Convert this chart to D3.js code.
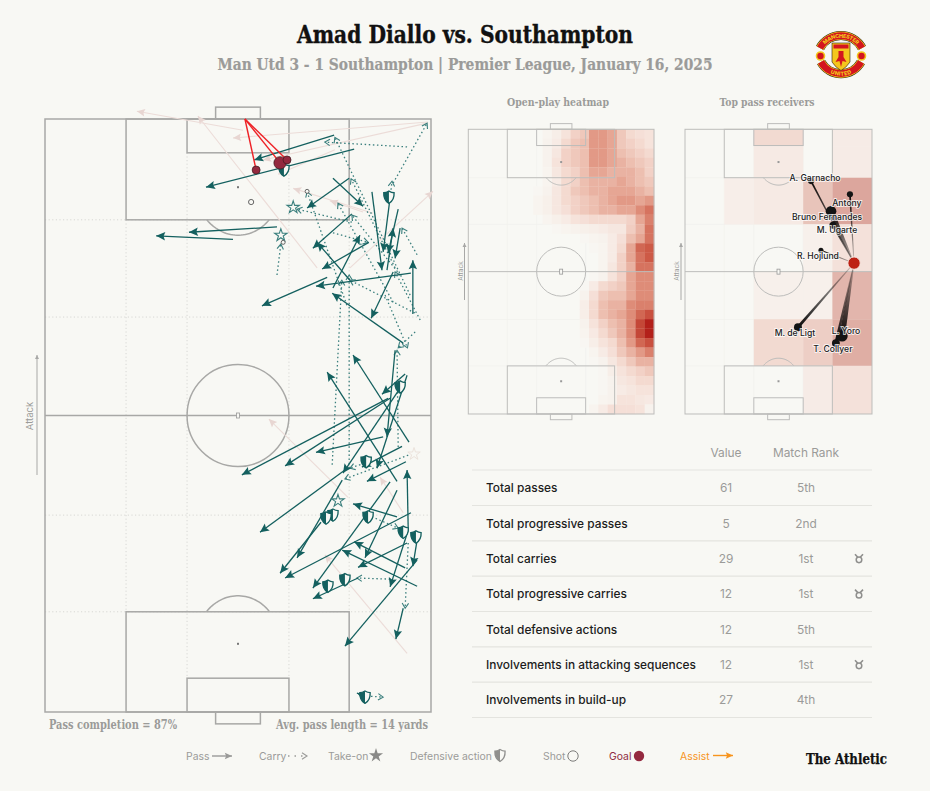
<!DOCTYPE html>
<html>
<head>
<meta charset="utf-8">
<title>Amad Diallo vs. Southampton</title>
<script src="https://cdn.jsdelivr.net/npm/d3@7"></script>
<style>
  html, body { margin: 0; padding: 0; background: #f8f8f4; }
  svg { display: block; }
</style>
</head>
<body>
<div id="plot-container"></div>
<script>
// ##################################
//  DATA (pitch units 0-100, attacking towards y = 100)
// ##################################

// [x0, y0, x1, y1]
const completedPasses = [
  [74.9, 97.3, 54.2, 93.1], [80.1, 94.9, 41.7, 88.5], [78.8, 90.0, 67.9, 85.0], [74.6, 90.0, 82.4, 85.3],
  [60.1, 81.8, 37.3, 80.9], [48.7, 79.7, 28.8, 80.3], [79.5, 84.0, 69.4, 78.2], [79.0, 72.8, 70.5, 79.2],
  [83.9, 79.2, 71.8, 74.7], [74.6, 71.5, 81.6, 80.4], [94.8, 74.0, 70.2, 71.8], [73.1, 73.3, 56.2, 68.5],
  [84.7, 87.7, 87.3, 74.5], [89.4, 86.7, 87.6, 77.6], [88.6, 74.5, 90.2, 81.6], [91.5, 84.8, 88.9, 77.4],
  [92.0, 81.6, 90.7, 76.5], [95.3, 67.1, 95.3, 76.2], [92.8, 62.2, 74.4, 70.6], [90.2, 74.2, 84.5, 66.4],
  [93.3, 57.0, 87.3, 53.6], [88.9, 52.9, 51.0, 40.0], [89.4, 52.9, 62.2, 41.5], [94.3, 45.5, 79.8, 60.2],
  [91.2, 38.9, 73.1, 57.3], [87.6, 46.4, 70.2, 43.8], [90.7, 61.0, 88.6, 46.4], [93.8, 56.8, 86.0, 41.1],
  [92.0, 54.6, 77.2, 40.3], [77.7, 40.8, 55.7, 30.3], [77.0, 39.1, 65.3, 26.0], [71.5, 32.0, 60.9, 23.4],
  [92.5, 44.8, 82.1, 41.3], [93.5, 42.2, 83.4, 38.9], [94.1, 30.7, 93.8, 40.8], [91.2, 32.9, 79.8, 35.1],
  [89.4, 38.8, 69.4, 20.9], [91.2, 37.4, 82.9, 26.0], [94.8, 33.6, 62.2, 22.6], [93.3, 24.3, 80.1, 28.7],
  [96.4, 21.2, 77.0, 27.3], [93.8, 28.5, 81.1, 24.4], [94.1, 30.7, 89.4, 21.1], [96.4, 29.0, 95.3, 24.6],
  [96.4, 25.6, 77.7, 11.1], [81.1, 22.6, 69.4, 19.1], [92.8, 17.5, 90.9, 12.3], [83.4, 2.5, 80.8, 3.2],
]

const failedPasses = [
  [99.2, 99.5, 48.7, 96.8], [99.0, 99.3, 56.5, 93.1], [70.5, 74.9, 39.6, 100.5], [51.3, 98.1, 23.8, 101.3],
  [85.0, 84.1, 64.3, 88.3], [79.0, 74.9, 100.5, 87.8], [82.4, 84.3, 73.8, 86.2], [75.1, 94.8, 60.4, 90.7],
  [78.5, 36.2, 58.0, 49.4], [92.8, 33.6, 86.8, 39.6], [93.8, 9.9, 72.5, 26.5],
]

const carries = [
  [93.8, 95.3, 72.5, 96.1], [90.2, 89.2, 99.0, 99.3], [89.4, 86.7, 89.9, 89.5], [94.6, 70.3, 75.1, 96.9],
  [90.7, 74.9, 79.3, 89.9], [90.2, 69.1, 75.9, 85.8], [78.2, 68.6, 67.9, 87.7], [79.5, 82.6, 65.3, 84.8],
  [92.0, 73.7, 79.5, 83.8], [60.1, 73.7, 61.1, 78.9], [74.6, 80.8, 83.7, 79.2], [96.4, 77.1, 92.5, 81.6],
  [97.2, 66.1, 90.7, 74.2], [95.8, 67.3, 79.0, 72.8], [88.1, 70.3, 93.9, 61.4], [91.5, 44.7, 91.2, 61.0],
  [74.4, 41.7, 76.9, 72.8], [78.8, 41.1, 78.8, 73.7], [83.7, 42.2, 79.0, 41.1], [94.1, 43.3, 77.7, 39.3],
  [83.7, 33.2, 91.5, 31.0], [94.1, 28.5, 93.3, 17.5], [89.4, 22.4, 80.8, 22.6], [83.4, 2.7, 87.6, 2.5],
  [95.9, 64.1, 91.5, 61.4],
]

const defensiveActions = [
  [61.9, 91.4], [89.1, 86.8], [92.0, 54.8], [83.2, 42.2], [74.6, 33.2], [72.8, 32.7],
  [83.7, 32.9], [92.8, 30.3], [96.1, 29.5], [73.3, 21.2], [77.7, 22.3], [82.9, 2.5],
]
const takeOns = [[64.3, 85.1], [61.1, 80.4], [75.9, 35.6]]
const failedTakeOns = [[95.6, 43.5]]
const shots = [[53.4, 86.0], [67.9, 87.8], [61.7, 79.2]]
const goals = [[54.7, 91.4], [60.9, 92.6], [62.7, 93.1]]
const goalMouth = [51.8, 100]

// Open-play heatmap, 30 rows (top to bottom) x 20 columns
const heatRows = [
  [0,0,0,0,0,0,0,0,.2,.5,1,2,2.5,4.5,4.5,4,2.5,1.5,1.2,1],
  [0,0,0,0,0,0,0,0,.3,.6,1.5,2.5,3,4.5,4.5,4,2.5,2,1.5,1],
  [0,0,0,0,0,0,0,0,.3,.8,2,2.5,3,4.5,4.5,4,3,2.5,2,1.5],
  [0,0,0,0,0,0,0,0,.3,1,2,2.5,3,4.5,4.5,4,3.5,3,2.5,2],
  [0,0,0,0,0,0,0,0,.2,.8,1.5,2,3,4,4,3.5,3.5,3.5,3,2],
  [0,0,0,0,0,0,0,0,.2,.6,1.5,2,3,3.5,3.5,3.5,4,3.5,3,2.5],
  [0,0,0,0,0,0,0,.1,.3,.8,1.5,2.5,3,3.5,3.5,4,4,4,3.5,3],
  [0,0,0,0,0,0,0,.2,.4,.8,1.5,2,2.5,3,3.5,4,4.5,4.5,4,4.5],
  [0,0,0,0,0,0,0,.2,.4,.8,1.2,2,2.5,3,3.5,3.5,4,4,5,6],
  [0,0,0,0,0,0,0,0,.2,.4,.6,1,1.2,1.5,1.5,1.5,1.5,2,4,5.5],
  [0,0,0,0,0,0,0,0,0,.1,.2,.3,.4,.5,.6,.8,.8,2.2,3.5,6],
  [0,0,0,0,0,0,0,0,0,0,0,0,.1,.2,.3,.6,1.2,3,4,6],
  [0,0,0,0,0,0,0,0,0,0,0,0,0,.1,.2,.6,1.5,4,6.5,7],
  [0,0,0,0,0,0,0,0,0,0,0,0,0,0,.2,.6,2,4,6,7],
  [0,0,0,0,0,0,0,0,0,0,0,0,0,0,.2,.8,2,3.5,6,6],
  [0,0,0,0,0,0,0,0,0,0,0,0,0,.1,.3,1,2,4,5,5],
  [0,0,0,0,0,0,0,0,0,0,0,0,.1,.6,1.5,2,2.5,4,5,5],
  [0,0,0,0,0,0,0,0,0,0,0,0,.3,1.2,2.5,3,3,4,5,5],
  [0,0,0,0,0,0,0,0,0,0,0,0,.5,1.5,3,3.5,3.5,5,5.5,5.5],
  [0,0,0,0,0,0,0,0,0,0,0,0,.5,1.5,3,3.5,4,5,6.5,7.5],
  [0,0,0,0,0,0,0,0,0,0,0,0,.3,1,2,3,3.5,5,8,10],
  [0,0,0,0,0,0,0,0,0,0,0,0,.2,.7,1.5,2.5,3.5,5,8,10],
  [0,0,0,0,0,0,0,0,0,0,0,0,.1,.5,1,1.5,3,4.5,6.5,7.5],
  [0,0,0,0,0,0,0,0,0,0,0,0,0,.2,.6,1.2,2.5,3.5,4.5,5.5],
  [0,0,0,0,0,0,0,0,0,0,0,0,0,.1,.3,.8,1.5,2.5,3.5,3.5],
  [0,0,0,0,0,0,0,0,0,0,0,0,0,0,.1,.5,1,1.5,2,2.5],
  [0,0,0,0,0,0,0,0,0,0,0,0,0,0,.1,.3,.8,1,1.5,1.5],
  [0,0,0,0,0,0,0,0,0,0,0,0,0,0,.1,.3,.6,.8,1,1],
  [0,0,0,0,0,0,0,0,0,0,0,0,0,0,.2,.3,1,1,.8,.7],
  [0,0,0,0,0,0,0,0,0,0,0,0,0,.2,.6,1.2,1.2,1.2,1,.3],
]

// Top pass receivers: zones behind the network
const zoneXEdges = [0, 21, 36.8, 63.2, 78.8, 100]
const zoneYEdges = [100, 94.1, 83, 66.6, 50, 33.3, 16.9, 0]
const zoneValues = [
  [0, 0, 2, 0, .8],
  [0, 0, .9, 0, .8],
  [0, .6, .9, 3.5, 5.5],
  [0, 0, 0, .5, 1.5],
  [0, 0, .5, .5, 4.5],
  [0, 0, 2, 2.8, 5],
  [0, 0, 0, .8, 1.5],
]

const receiverNames = ["A. Garnacho", "Antony", "Bruno Fernandes", "M. Ugarte", "R. Hojlund", "M. de Ligt", "L. Yoro", "T. Collyer"]
const receiverX = [67.4, 88.2, 78.1, 79.1, 72.7, 60.4, 84.0, 80.7]
const receiverY = [81.8, 77.2, 71.2, 66.3, 57.5, 30.5, 27.4, 24.9]
const receiverPasses = [3, 3, 9, 4, 2, 5, 10, 5]
const playerAverage = [90.4, 53.0]

const tableLabels = [
  "Total passes", "Total progressive passes", "Total carries", "Total progressive carries",
  "Total defensive actions", "Involvements in attacking sequences", "Involvements in build-up",
]
const tableValues = [61, 5, 29, 12, 12, 12, 27]
const tableRanks = ["5th", "2nd", "1st", "1st", "5th", "1st", "4th"]

// ##################################
//  CONSTANTS
// ##################################

const width = 930
const height = 791
const bg = "#f8f8f4"
const teal = "#14605f"
const tealDot = "#3a7f7d"
const faded = "#ecdcd8"
const lineGray = "#a8a8a6"
const textGray = "#9b9b99"
const slab = "'DejaVu Serif Condensed', 'DejaVu Serif', serif"
const sans = "Inter, 'Noto Sans', sans-serif"

const svg = d3.select("#plot-container").append("svg")
  .attr("width", width).attr("height", height)
  .attr("viewBox", [0, 0, width, height])
  .style("background", bg)

const defs = svg.append("defs")

const addArrow = (id, color, size = 1) =>
  defs.append("marker")
    .attr("id", id)
    .attr("markerUnits", "userSpaceOnUse")
    .attr("viewBox", "-11 -6 12 12")
    .attr("refX", 0).attr("refY", 0)
    .attr("markerWidth", 12 * size).attr("markerHeight", 12 * size)
    .attr("orient", "auto")
    .append("path")
    .attr("d", "M0,0 L-9,-4.2 L-7.4,0 L-9,4.2Z")
    .attr("fill", color)

const addChevron = (id, color) =>
  defs.append("marker")
    .attr("id", id)
    .attr("markerUnits", "userSpaceOnUse")
    .attr("viewBox", "-8 -6 10 12")
    .attr("refX", 0).attr("refY", 0)
    .attr("markerWidth", 10).attr("markerHeight", 12)
    .attr("orient", "auto")
    .append("path")
    .attr("d", "M-5,-3.2 L0,0 L-5,3.2")
    .attr("fill", "none")
    .attr("stroke", color)
    .attr("stroke-width", 1.1)

addArrow("head-pass", teal)
addArrow("head-failed", "#e8d6d2", .9)
addArrow("head-gray", "#9a9a98", .8)
addArrow("head-orange", "#f7941d", .8)
addChevron("chev-carry", tealDot)
addChevron("chev-gray", "#9a9a98")

// ##################################
//  PITCH
// ##################################

const makePitch = (left, top, w, h, opts) => {
  const x = d3.scaleLinear().domain([0, 100]).range([left, left + w])
  const y = d3.scaleLinear().domain([0, 100]).range([top + h, top])
  return { x, y, left, top, w, h, ...opts }
}

const drawGrid = (p) => {
  const g = svg.append("g")
    .attr("stroke", p.gridColor)
    .attr("stroke-width", p.gridWidth)
    .attr("stroke-dasharray", p.gridDash)
    .attr("fill", "none")
  ;[[21, 83, 17], [36.8, 94.3, 5.7], [63.2, 94.3, 5.7], [78.8, 83, 17]].forEach(([vx, y0, y1]) =>
    g.append("line").attr("x1", p.x(vx)).attr("x2", p.x(vx)).attr("y1", p.y(y0)).attr("y2", p.y(y1)))
  ;[83, 66.6, 33.2, 16.9].forEach((hy) =>
    g.append("line").attr("x1", p.x(0)).attr("x2", p.x(100)).attr("y1", p.y(hy)).attr("y2", p.y(hy)))
}

const drawLines = (p) => {
  const g = svg.append("g")
    .attr("stroke", p.lineColor)
    .attr("stroke-width", p.lineWidth)
    .attr("fill", "none")
  const rect = (x0, x1, y0, y1) =>
    g.append("rect")
      .attr("x", p.x(x0)).attr("y", p.y(y1))
      .attr("width", p.x(x1) - p.x(x0)).attr("height", p.y(y0) - p.y(y1))

  rect(0, 100, 0, 100)
  rect(21, 78.8, 83, 100)
  rect(36.8, 63.2, 94.3, 100)
  rect(44.2, 55.8, 100, 102)
  rect(21, 78.8, 0, 16.9)
  rect(36.8, 63.2, 0, 5.7)
  rect(44.2, 55.8, -2, 0)

  g.append("line")
    .attr("x1", p.x(0)).attr("x2", p.x(100))
    .attr("y1", p.y(50)).attr("y2", p.y(50))

  const rx = 13.2
  const ry = 8.6
  g.append("ellipse")
    .attr("cx", p.x(50)).attr("cy", p.y(50))
    .attr("rx", p.x(50 + rx) - p.x(50)).attr("ry", p.y(50 - ry) - p.y(50))

  // The D on each penalty box
  const arc = d3.line().x((d) => p.x(d[0])).y((d) => p.y(d[1]))
  const dRx = 11
  const dRy = 8.1
  const theta = Math.asin(5.5 / dRy)
  const angles = d3.range(theta, Math.PI - theta + 0.01, 0.05)
  g.append("path").attr("d", arc(angles.map((a) => [50 + dRx * Math.cos(a), 88.5 - dRy * Math.sin(a)])))
  g.append("path").attr("d", arc(angles.map((a) => [50 + dRx * Math.cos(a), 11.5 + dRy * Math.sin(a)])))

  svg.append("g").attr("fill", p.lineColor === lineGray ? "#777" : "#999")
    .selectAll("rect")
    .data([[50, 88.5], [50, 11.5]])
    .join("rect")
    .attr("x", (d) => p.x(d[0]) - 1).attr("y", (d) => p.y(d[1]) - 1)
    .attr("width", 2).attr("height", 2)

  svg.append("rect")
    .attr("x", p.x(50) - 1.5).attr("y", p.y(50) - 2.5)
    .attr("width", 3).attr("height", 5)
    .attr("fill", bg).attr("stroke", "#999").attr("stroke-width", .8)
}

const attackLabel = (lx, arrowX, y0, y1, yMid, size) => {
  svg.append("line")
    .attr("x1", arrowX).attr("x2", arrowX).attr("y1", y0).attr("y2", y1)
    .attr("stroke", lineGray).attr("stroke-width", 1)
  svg.append("path")
    .attr("d", d3.line()([[arrowX - 2, y1 + 4], [arrowX, y1], [arrowX + 2, y1 + 4]]))
    .attr("fill", lineGray)
  svg.append("text")
    .attr("transform", `translate(${lx},${yMid}) rotate(-90)`)
    .attr("text-anchor", "middle")
    .attr("font-family", sans).attr("font-size", size).attr("fill", textGray)
    .text("Attack")
}

const mainPitch = makePitch(45, 119, 386, 593, {
  gridColor: "#d8d8d4", gridWidth: 1, gridDash: "1.2 2.4", lineColor: lineGray, lineWidth: 1.5,
})
const heatPitch = makePitch(468.3, 129.3, 185.7, 284.7, {
  gridColor: "#f0f0ec", gridWidth: .7, gridDash: null, lineColor: "#bdbdbb", lineWidth: 1,
})
const netPitch = makePitch(685, 129.3, 187, 284.7, {
  gridColor: "#f0f0ec", gridWidth: .7, gridDash: null, lineColor: "#bdbdbb", lineWidth: 1,
})

// ##################################
//  MAIN PITCH
// ##################################

drawGrid(mainPitch)
drawLines(mainPitch)
attackLabel(33, 37, 475, 355, 416, 9.5)

const mx = mainPitch.x
const my = mainPitch.y

const drawSegments = (rows, stroke, sw, marker, dash) =>
  svg.append("g")
    .selectAll("line")
    .data(rows)
    .join("line")
    .attr("x1", (d) => mx(d[0])).attr("y1", (d) => my(d[1]))
    .attr("x2", (d) => mx(d[2])).attr("y2", (d) => my(d[3]))
    .attr("stroke", stroke)
    .attr("stroke-width", sw)
    .attr("stroke-dasharray", dash)
    .attr("marker-end", `url(#${marker})`)

const shieldPath = "M0,-5.5 C1.8,-4.4 3.4,-4 4.6,-4 C4.8,-0.6 3.6,3.4 0,5.5 C-3.6,3.4 -4.8,-0.6 -4.6,-4 C-3.4,-4 -1.8,-4.4 0,-5.5Z"
const shieldLeft = "M0,-5.5 C-1.8,-4.4 -3.4,-4 -4.6,-4 C-4.8,-0.6 -3.6,3.4 0,5.5Z"
const starPath = d3.symbol().type(d3.symbolStar)

const drawShield = (parent, color) => {
  parent.append("path").attr("d", shieldPath).attr("fill", bg).attr("stroke", color).attr("stroke-width", 1.2)
  parent.append("path").attr("d", shieldLeft).attr("fill", color)
}

drawSegments(failedPasses, faded, 1.1, "head-failed")
drawSegments(carries, tealDot, 1.3, "chev-carry", "1.5 2.6")
drawSegments(completedPasses, teal, 1.3, "head-pass")

// Take-ons, shots
svg.append("g").selectAll("path")
  .data(failedTakeOns)
  .join("path")
  .attr("transform", (d) => `translate(${mx(d[0])},${my(d[1])})`)
  .attr("d", starPath.size(48))
  .attr("fill", "none").attr("stroke", "#ece3dc").attr("stroke-width", 1)

svg.append("g").selectAll("path")
  .data(takeOns)
  .join("path")
  .attr("transform", (d) => `translate(${mx(d[0])},${my(d[1])})`)
  .attr("d", starPath.size(48))
  .attr("fill", bg).attr("stroke", tealDot).attr("stroke-width", 1.1)

svg.append("g").selectAll("circle")
  .data(shots)
  .join("circle")
  .attr("cx", (d) => mx(d[0])).attr("cy", (d) => my(d[1]))
  .attr("r", (d, i) => (i === 0 ? 2.6 : 2))
  .attr("fill", bg).attr("stroke", "#555").attr("stroke-width", .9)

// Defensive actions
svg.append("g").selectAll("g")
  .data(defensiveActions)
  .join("g")
  .attr("transform", (d) => `translate(${mx(d[0])},${my(d[1])}) scale(1.12)`)
  .each(function () { drawShield(d3.select(this), teal) })

// Goals and their assist lines
svg.append("g").selectAll("line")
  .data(goals)
  .join("line")
  .attr("x1", mx(goalMouth[0])).attr("y1", my(goalMouth[1]))
  .attr("x2", (d) => mx(d[0])).attr("y2", (d) => my(d[1]))
  .attr("stroke", "#ee2227").attr("stroke-width", 1.4)

svg.append("g").selectAll("circle")
  .data(goals)
  .join("circle")
  .attr("cx", (d) => mx(d[0])).attr("cy", (d) => my(d[1]))
  .attr("r", (d, i) => (i === 1 ? 6.2 : 4))
  .attr("fill", "#94293f").attr("stroke", "#3b1a20").attr("stroke-width", .7)

// ##################################
//  HEATMAP
// ##################################

const heatColor = d3.scaleLinear()
  .domain([0, 1, 3, 5, 7, 10])
  .range([bg, "#f6e3db", "#edbfb0", "#de8c78", "#cd5a46", "#b3201a"])

const heatX = d3.scaleBand().domain(d3.range(20)).range([468.3, 654])
const heatY = d3.scaleBand().domain(d3.range(30)).range([129.3, 414])

drawGrid(heatPitch)
svg.append("g").selectAll("rect")
  .data(heatRows.flatMap((row, r) => row.map((v, c) => ({ r, c, v }))).filter((d) => d.v > 0))
  .join("rect")
  .attr("x", (d) => heatX(d.c)).attr("y", (d) => heatY(d.r))
  .attr("width", heatX.bandwidth() + .2).attr("height", heatY.bandwidth() + .2)
  .attr("fill", (d) => heatColor(d.v))
drawLines(heatPitch)
attackLabel(463, 464.5, 300, 243, 271, 6.5)

// ##################################
//  PASS RECEIVERS
// ##################################

const nx = netPitch.x
const ny = netPitch.y
const zoneColor = d3.scaleLinear()
  .domain([0, 1, 2, 3.5, 5.5])
  .range([bg, "#f6e8e2", "#f2dad1", "#e8c4ba", "#dca69d"])

drawGrid(netPitch)
svg.append("g").selectAll("rect")
  .data(zoneValues.flatMap((row, r) => row.map((v, c) => ({ r, c, v }))).filter((d) => d.v > 0))
  .join("rect")
  .attr("x", (d) => nx(zoneXEdges[d.c])).attr("y", (d) => ny(zoneYEdges[d.r]))
  .attr("width", (d) => nx(zoneXEdges[d.c + 1]) - nx(zoneXEdges[d.c]))
  .attr("height", (d) => ny(zoneYEdges[d.r + 1]) - ny(zoneYEdges[d.r]))
  .attr("fill", (d) => zoneColor(d.v))
drawLines(netPitch)
attackLabel(679, 681, 300, 243, 271, 6.5)

const receivers = receiverNames.map((name, i) => ({
  name, x: receiverX[i], y: receiverY[i], passes: receiverPasses[i],
}))
// Label nudges relative to each node, in pixels
const labelOffsets = [[4, -0.5], [-3, 12], [-4, 9], [4, 8], [-3, 9], [-3, 9], [4, -2], [-3, 9]]

const nodeR = d3.scaleSqrt().domain([0, 10]).range([0, 5.6])
const edgeW = d3.scaleLinear().domain([0, 10]).range([0, 6])

const hubX = nx(playerAverage[0])
const hubY = ny(playerAverage[1])

receivers.forEach((d, i) => {
  const x0 = nx(d.x)
  const y0 = ny(d.y)
  const len = Math.hypot(hubX - x0, hubY - y0)
  const ux = -(hubY - y0) / len
  const uy = (hubX - x0) / len
  const hw = edgeW(d.passes) / 2
  const id = `edge-${i}`
  const grad = defs.append("linearGradient")
    .attr("id", id)
    .attr("gradientUnits", "userSpaceOnUse")
    .attr("x1", x0).attr("y1", y0).attr("x2", hubX).attr("y2", hubY)
  grad.append("stop").attr("offset", "0%").attr("stop-color", "#000").attr("stop-opacity", .95)
  grad.append("stop").attr("offset", "100%").attr("stop-color", "#000").attr("stop-opacity", .15)
  svg.append("path")
    .attr("d", d3.line()([[x0 + ux * hw, y0 + uy * hw], [x0 - ux * hw, y0 - uy * hw], [hubX - ux * .4, hubY - uy * .4], [hubX + ux * .4, hubY + uy * .4]]) + "Z")
    .attr("fill", `url(#${id})`)
})

svg.append("g").selectAll("circle")
  .data(receivers)
  .join("circle")
  .attr("cx", (d) => nx(d.x)).attr("cy", (d) => ny(d.y))
  .attr("r", (d) => nodeR(d.passes))
  .attr("fill", "#141414")

svg.append("circle")
  .attr("cx", hubX).attr("cy", hubY).attr("r", 6.2)
  .attr("fill", "#bd2114").attr("stroke", "#f6e7e0").attr("stroke-width", 1)

svg.append("g").selectAll("text")
  .data(receivers)
  .join("text")
  .attr("x", (d, i) => nx(d.x) + labelOffsets[i][0])
  .attr("y", (d, i) => ny(d.y) + labelOffsets[i][1])
  .attr("text-anchor", "middle")
  .attr("font-family", sans).attr("font-size", 8.6).attr("font-weight", 500)
  .attr("fill", "#222")
  .attr("stroke", "#fff").attr("stroke-width", 1.8).attr("stroke-opacity", .75)
  .attr("paint-order", "stroke")
  .text((d) => d.name)

// ##################################
//  TABLE
// ##################################

const rowY = d3.scalePoint().domain(d3.range(7)).range([488, 700])

svg.append("g").selectAll("line")
  .data(d3.range(8))
  .join("line")
  .attr("x1", 472).attr("x2", 872)
  .attr("y1", (i) => (i === 0 ? 470 : rowY(i - 1) + 17.5))
  .attr("y2", (i) => (i === 0 ? 470 : rowY(i - 1) + 17.5))
  .attr("stroke", "#e4e4df").attr("stroke-width", 1.2)

const tableText = (x, y, str, color, anchor, weight) =>
  svg.append("text")
    .attr("x", x).attr("y", y)
    .attr("text-anchor", anchor)
    .attr("font-family", sans).attr("font-size", 11.9).attr("font-weight", weight)
    .attr("fill", color)
    .text(str)

tableText(726, 456.5, "Value", textGray, "middle", 400)
tableText(806, 456.5, "Match Rank", textGray, "middle", 400)

tableLabels.forEach((label, i) => {
  const y = rowY(i) + 4.2
  tableText(486, y, label, "#1c1c1c", "start", 500)
  tableText(726, y, tableValues[i], textGray, "middle", 400)
  tableText(806, y, tableRanks[i], textGray, "middle", 400)
  if (tableRanks[i] === "1st") {
    const medal = svg.append("g")
      .attr("transform", `translate(859,${rowY(i)})`)
      .attr("fill", "none").attr("stroke", "#8f8f8d")
    medal.append("circle").attr("cy", 1.2).attr("r", 2.8).attr("stroke-width", 1.5)
    medal.append("path").attr("d", "M-4,-4.4 L-1.2,-1.4 M4,-4.4 L1.2,-1.4").attr("stroke-width", 1.6)
  }
})

// ##################################
//  TITLES AND FOOTER
// ##################################

const slabText = (x, y, str, size, color, anchor, len, bolder = 0) => {
  const t = svg.append("text")
    .attr("x", x).attr("y", y)
    .attr("text-anchor", anchor)
    .attr("font-family", slab).attr("font-size", size).attr("font-weight", 700)
    .attr("fill", color)
    .attr("stroke", color).attr("stroke-width", bolder)
    .text(str)
  if (len) t.attr("textLength", len).attr("lengthAdjust", "spacingAndGlyphs")
}

slabText(465, 43, "Amad Diallo vs. Southampton", 24, "#111", "middle", 336, .35)
slabText(465, 70, "Man Utd 3 - 1 Southampton | Premier League, January 16, 2025", 17, textGray, "middle", 495, .2)
slabText(558, 106, "Open-play heatmap", 10.5, textGray, "middle", 102)
slabText(767, 106, "Top pass receivers", 10.5, textGray, "middle", 95)
slabText(49, 729, "Pass completion = 87%", 12.5, textGray, "start", 128)
slabText(428, 729, "Avg. pass length = 14 yards", 12.5, textGray, "end", 152)
slabText(887, 764, "The Athletic", 14.5, "#111", "end", 81, .25)

// Legend
const legendY = 759.5
const legendText = (x, str, color = textGray) =>
  svg.append("text")
    .attr("x", x).attr("y", legendY)
    .attr("font-family", sans).attr("font-size", 10.4)
    .attr("fill", color)
    .text(str)
const legendIcon = svg.append("g")

legendText(186, "Pass")
legendIcon.append("line").attr("x1", 212).attr("x2", 232).attr("y1", 756).attr("y2", 756)
  .attr("stroke", "#9a9a98").attr("stroke-width", 1.4).attr("marker-end", "url(#head-gray)")

legendText(259, "Carry")
legendIcon.append("line").attr("x1", 288).attr("x2", 307).attr("y1", 756).attr("y2", 756)
  .attr("stroke", "#9a9a98").attr("stroke-width", 1.4).attr("stroke-dasharray", "1.5 5")
  .attr("marker-end", "url(#chev-gray)")

legendText(328, "Take-on")
legendIcon.append("path").attr("transform", "translate(376,755.5)")
  .attr("d", d3.symbol().type(d3.symbolStar).size(62)).attr("fill", "#8a8a88")

legendText(410, "Defensive action")
const legendShield = legendIcon.append("g").attr("transform", "translate(500,755.5) scale(1.1)")
drawShield(legendShield, "#8f8f8d")

legendText(543, "Shot")
legendIcon.append("circle").attr("cx", 573).attr("cy", 756).attr("r", 5.2)
  .attr("fill", "none").attr("stroke", "#7d7d7b").attr("stroke-width", 1)

legendText(609, "Goal", "#8f2b40")
legendIcon.append("circle").attr("cx", 639).attr("cy", 756).attr("r", 5.2).attr("fill", "#94293f")

legendText(680, "Assist", "#f7941d")
legendIcon.append("line").attr("x1", 713).attr("x2", 733).attr("y1", 755.5).attr("y2", 755.5)
  .attr("stroke", "#f7941d").attr("stroke-width", 1.4).attr("marker-end", "url(#head-orange)")

// ##################################
//  CREST
// ##################################

const crest = svg.append("g").attr("transform", "translate(841,55)")
const crestRed = "#d3151f"
const crestGold = "#f4c61c"

crest.append("path").attr("d", "M-21,-7 A24,24 0 0 1 21,-7").attr("fill", "none").attr("stroke", "#2a1b12").attr("stroke-width", 9)
crest.append("path").attr("d", "M-21,-7 A24,24 0 0 1 21,-7").attr("fill", "none").attr("stroke", crestGold).attr("stroke-width", 8)
crest.append("path").attr("id", "crest-top").attr("d", "M-21,-7 A24,24 0 0 1 21,-7").attr("fill", "none").attr("stroke", crestRed).attr("stroke-width", 6.6)
crest.append("path").attr("d", "M-20,7 A23,23 0 0 0 20,7").attr("fill", "none").attr("stroke", "#2a1b12").attr("stroke-width", 9)
crest.append("path").attr("d", "M-20,7 A23,23 0 0 0 20,7").attr("fill", "none").attr("stroke", crestGold).attr("stroke-width", 8)
crest.append("path").attr("id", "crest-bottom").attr("d", "M-20,7 A23,23 0 0 0 20,7").attr("fill", "none").attr("stroke", crestRed).attr("stroke-width", 6.6)

crest.selectAll("circle.roundel")
  .data([-20.5, 20.5])
  .join("circle")
  .attr("class", "roundel")
  .attr("cx", (d) => d).attr("cy", 1).attr("r", 4)
  .attr("fill", crestRed).attr("stroke", crestGold).attr("stroke-width", 1.6)

crest.append("path")
  .attr("d", "M-9,-12 L9,-12 L9,7 Q5,13 0,15.5 Q-5,13 -9,7Z")
  .attr("fill", crestGold).attr("stroke", "#2a1b12").attr("stroke-width", .6)
crest.append("rect").attr("x", -7.5).attr("y", -10.5).attr("width", 15).attr("height", 4).attr("fill", crestRed)
crest.append("path")
  .attr("d", "M-2.5,-4 L2.5,-4 L2.5,2 L5.5,7 L1.5,6 L0,12 L-1.5,6 L-5.5,7 L-2.5,2Z")
  .attr("fill", crestRed)

const crestText = (href, str, size, dy) =>
  crest.append("text")
    .attr("font-family", sans).attr("font-size", size).attr("font-weight", 800)
    .attr("fill", crestGold).attr("dy", dy)
    .append("textPath")
    .attr("href", href).attr("startOffset", "50%").attr("text-anchor", "middle")
    .text(str)

crestText("#crest-top", "MANCHESTER", 5.4, 2)
crestText("#crest-bottom", "UNITED", 5.4, 2)
</script>
</body>
</html>
